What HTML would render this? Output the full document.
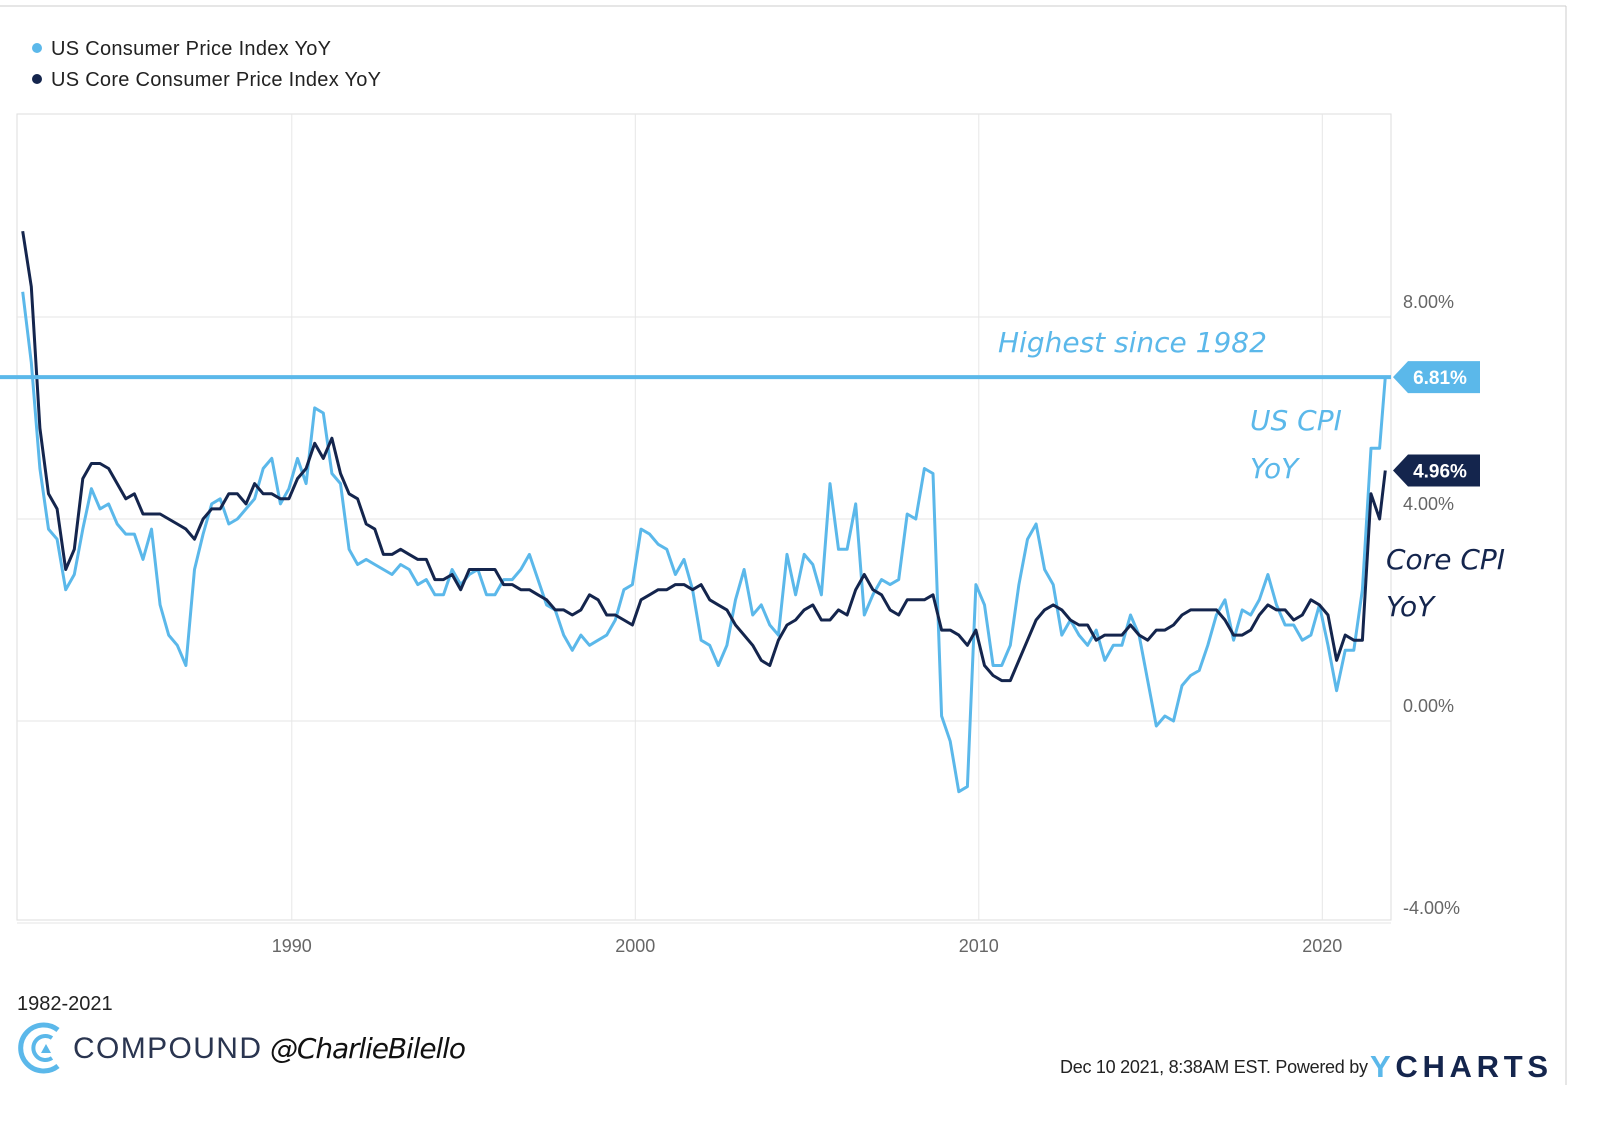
<!DOCTYPE html>
<html><head><meta charset="utf-8"><style>
body{margin:0;background:#fff;width:1600px;height:1122px;overflow:hidden;font-family:"Liberation Sans",sans-serif}
</style></head><body>
<svg width="1600" height="1122" viewBox="0 0 1600 1122">
<rect x="0" y="0" width="1600" height="1122" fill="#fff"/>
<line x1="0" y1="6" x2="1566" y2="6" stroke="#ccc" stroke-width="1"/>
<line x1="1566" y1="6" x2="1566" y2="1085" stroke="#ccc" stroke-width="1"/>
<g>
<g><circle cx="37" cy="48" r="5" fill="#5bb8ea"/><text x="51" y="55" font-size="20" fill="#222" transform="scale(1,1)" textLength="280">US Consumer Price Index YoY</text></g>
<g><circle cx="37" cy="79" r="5" fill="#14254d"/><text x="51" y="86" font-size="20" fill="#222" textLength="330">US Core Consumer Price Index YoY</text></g>
</g>
<rect x="17" y="114" width="1374" height="806" fill="none" stroke="#ddd"/>
<g id="grid"></g>
<g id="series"></g>
<g id="labels"></g>
<text x="998" y="352" font-size="28" font-style="italic" fill="#5bb8ea" font-family="'DejaVu Sans',sans-serif">Highest since 1982</text>
<text x="1250" y="430" font-size="28" font-style="italic" fill="#5bb8ea" font-family="'DejaVu Sans',sans-serif">US CPI</text>
<text x="1250" y="478" font-size="28" font-style="italic" fill="#5bb8ea" font-family="'DejaVu Sans',sans-serif">YoY</text>
<text x="1386" y="569" font-size="28" font-style="italic" fill="#14254d" font-family="'DejaVu Sans',sans-serif">Core CPI</text>
<text x="1386" y="616" font-size="28" font-style="italic" fill="#14254d" font-family="'DejaVu Sans',sans-serif">YoY</text>
<text x="17" y="1010" font-size="20" fill="#222">1982-2021</text>
<g>
<path d="M58 1030 A23 23 0 1 0 58 1066" fill="none" stroke="#5bb8ea" stroke-width="5"/>
<path d="M52 1038 A12 12 0 1 0 52 1058" fill="none" stroke="#5bb8ea" stroke-width="4"/>
<polygon points="41,1053 46,1044 51,1053" fill="#5bb8ea"/>
<text x="73" y="1058" font-size="30" fill="#2a3550" textLength="188">COMPOUND</text>
<text x="270" y="1058" font-size="28" font-style="italic" fill="#111" font-family="'DejaVu Sans',sans-serif" textLength="196">@CharlieBilello</text>
</g>
<text x="1060" y="1073" font-size="18" fill="#222" textLength="308">Dec 10 2021, 8:38AM EST.  Powered by</text>
<text x="1370" y="1077" font-size="31" font-weight="bold" fill="#14254d" textLength="178"><tspan fill="#5bb8ea">Y</tspan>CHARTS</text>
</svg>
<script>
const cpiValues=[8.5,7.1,5.0,3.8, 3.6,2.6,2.9,3.8, 4.6,4.2,4.3,3.9, 3.7,3.7,3.2,3.8, 2.3,1.7,1.5,1.1, 3.0,3.7,4.3,4.4, 3.9,4.0,4.2,4.4, 5.0,5.2,4.3,4.6, 5.2,4.7,6.2,6.1, 4.9,4.7,3.4,3.1, 3.2,3.1,3.0,2.9, 3.1,3.0,2.7,2.8, 2.5,2.5,3.0,2.7, 2.9,3.0,2.5,2.5, 2.8,2.8,3.0,3.3, 2.8,2.3,2.2,1.7, 1.4,1.7,1.5,1.6, 1.7,2.0,2.6,2.7, 3.8,3.7,3.5,3.4, 2.9,3.2,2.6,1.6, 1.5,1.1,1.5,2.4, 3.0,2.1,2.3,1.9, 1.7,3.3,2.5,3.3, 3.1,2.5,4.7,3.4, 3.4,4.3,2.1,2.5, 2.8,2.7,2.8,4.1, 4.0,5.0,4.9,0.1, -0.4,-1.4,-1.3,2.7, 2.3,1.1,1.1,1.5, 2.7,3.6,3.9,3.0, 2.7,1.7,2.0,1.7, 1.5,1.8,1.2,1.5, 1.5,2.1,1.7,0.8, -0.1,0.1,0.0,0.7, 0.9,1.0,1.5,2.1, 2.4,1.6,2.2,2.1, 2.4,2.9,2.3,1.9, 1.9,1.6,1.7,2.3, 1.5,0.6,1.4,1.4, 2.6,5.4,5.4,6.81];
const coreValues=[9.7,8.6,5.8,4.5, 4.2,3.0,3.4,4.8, 5.1,5.1,5.0,4.7, 4.4,4.5,4.1,4.1, 4.1,4.0,3.9,3.8, 3.6,4.0,4.2,4.2, 4.5,4.5,4.3,4.7, 4.5,4.5,4.4,4.4, 4.8,5.0,5.5,5.2, 5.6,4.9,4.5,4.4, 3.9,3.8,3.3,3.3, 3.4,3.3,3.2,3.2, 2.8,2.8,2.9,2.6, 3.0,3.0,3.0,3.0, 2.7,2.7,2.6,2.6, 2.5,2.4,2.2,2.2, 2.1,2.2,2.5,2.4, 2.1,2.1,2.0,1.9, 2.4,2.5,2.6,2.6, 2.7,2.7,2.6,2.7, 2.4,2.3,2.2,1.9, 1.7,1.5,1.2,1.1, 1.6,1.9,2.0,2.2, 2.3,2.0,2.0,2.2, 2.1,2.6,2.9,2.6, 2.5,2.2,2.1,2.4, 2.4,2.4,2.5,1.8, 1.8,1.7,1.5,1.8, 1.1,0.9,0.8,0.8, 1.2,1.6,2.0,2.2, 2.3,2.2,2.0,1.9, 1.9,1.6,1.7,1.7, 1.7,1.9,1.7,1.6, 1.8,1.8,1.9,2.1, 2.2,2.2,2.2,2.2, 2.0,1.7,1.7,1.8, 2.1,2.3,2.2,2.2, 2.0,2.1,2.4,2.3, 2.1,1.2,1.7,1.6, 1.6,4.5,4.0,4.96];
const yTicks=[8,4,0,-4];
const yTickLabels=["8.00%","4.00%","0.00%","-4.00%"];
const xTicks=[1990,2000,2010,2020];
const startYear=1982;
const NS="http://www.w3.org/2000/svg";
function xs(t){return 17+(t-1982)*34.35;}
function ys(v){return 721-v*50.5;}
function tOf(i,n){const yr=startYear+Math.floor(i/4);const q=i%4;let m=q*3+2;if(i===n-1)m=10;return yr+m/12;}
const grid=document.getElementById('grid'),series=document.getElementById('series'),labels=document.getElementById('labels');
yTicks.forEach((v,i)=>{
 const l=document.createElementNS(NS,'line');l.setAttribute('x1',17);l.setAttribute('x2',1391);l.setAttribute('y1',ys(v));l.setAttribute('y2',ys(v));l.setAttribute('stroke','#e6e6e6');
 
 
 grid.appendChild(l);
 const t=document.createElementNS(NS,'text');t.setAttribute('x',1403);t.setAttribute('y',ys(v)-9);t.setAttribute('font-size','18');t.setAttribute('fill','#666');t.textContent=yTickLabels[i];
 
 
 grid.appendChild(t);
});
xTicks.forEach(yr=>{
 const l=document.createElementNS(NS,'line');l.setAttribute('x1',xs(yr));l.setAttribute('x2',xs(yr));l.setAttribute('y1',114);l.setAttribute('y2',920);l.setAttribute('stroke','#e6e6e6');
 
 
 grid.appendChild(l);
 const t=document.createElementNS(NS,'text');t.setAttribute('x',xs(yr));t.setAttribute('y',952);t.setAttribute('font-size','18');t.setAttribute('fill','#666');t.setAttribute('text-anchor','middle');t.textContent=yr;
 
 
 grid.appendChild(t);
});
function drawLine(vals,color,name){
 const p=document.createElementNS(NS,'polyline');
 p.setAttribute('points',vals.map((v,i)=>xs(tOf(i,vals.length)).toFixed(1)+','+ys(v).toFixed(1)).join(' '));
 p.setAttribute('fill','none');p.setAttribute('stroke',color);p.setAttribute('stroke-width','3');p.setAttribute('stroke-linejoin','round');
 
 
 series.appendChild(p);
}
drawLine(cpiValues,'#5bb8ea','cpi-line');
drawLine(coreValues,'#14254d','core-cpi-line');
const lastCpi=cpiValues[cpiValues.length-1],lastCore=coreValues[coreValues.length-1];
const hl=document.createElementNS(NS,'line');hl.setAttribute('x1',0);hl.setAttribute('x2',1391);hl.setAttribute('y1',ys(lastCpi));hl.setAttribute('y2',ys(lastCpi));hl.setAttribute('stroke','#5bb8ea');hl.setAttribute('stroke-width','4');


series.appendChild(hl);
function tag(v,color,name){
 const y=ys(v);
 const g=document.createElementNS(NS,'g');
 
 
 const p=document.createElementNS(NS,'polygon');
 p.setAttribute('points',`1393,${y} 1408,${y-16} 1480,${y-16} 1480,${y+16} 1408,${y+16}`);p.setAttribute('fill',color);g.appendChild(p);
 const t=document.createElementNS(NS,'text');t.setAttribute('x',1440);t.setAttribute('y',y+7);t.setAttribute('font-size','19');t.setAttribute('font-weight','bold');t.setAttribute('fill','#fff');t.setAttribute('text-anchor','middle');t.textContent=v.toFixed(2)+'%';g.appendChild(t);
 labels.appendChild(g);
}
tag(lastCpi,'#5bb8ea','cpi-last-value-tag');
tag(lastCore,'#14254d','core-cpi-last-value-tag');
</script>
</body></html>
